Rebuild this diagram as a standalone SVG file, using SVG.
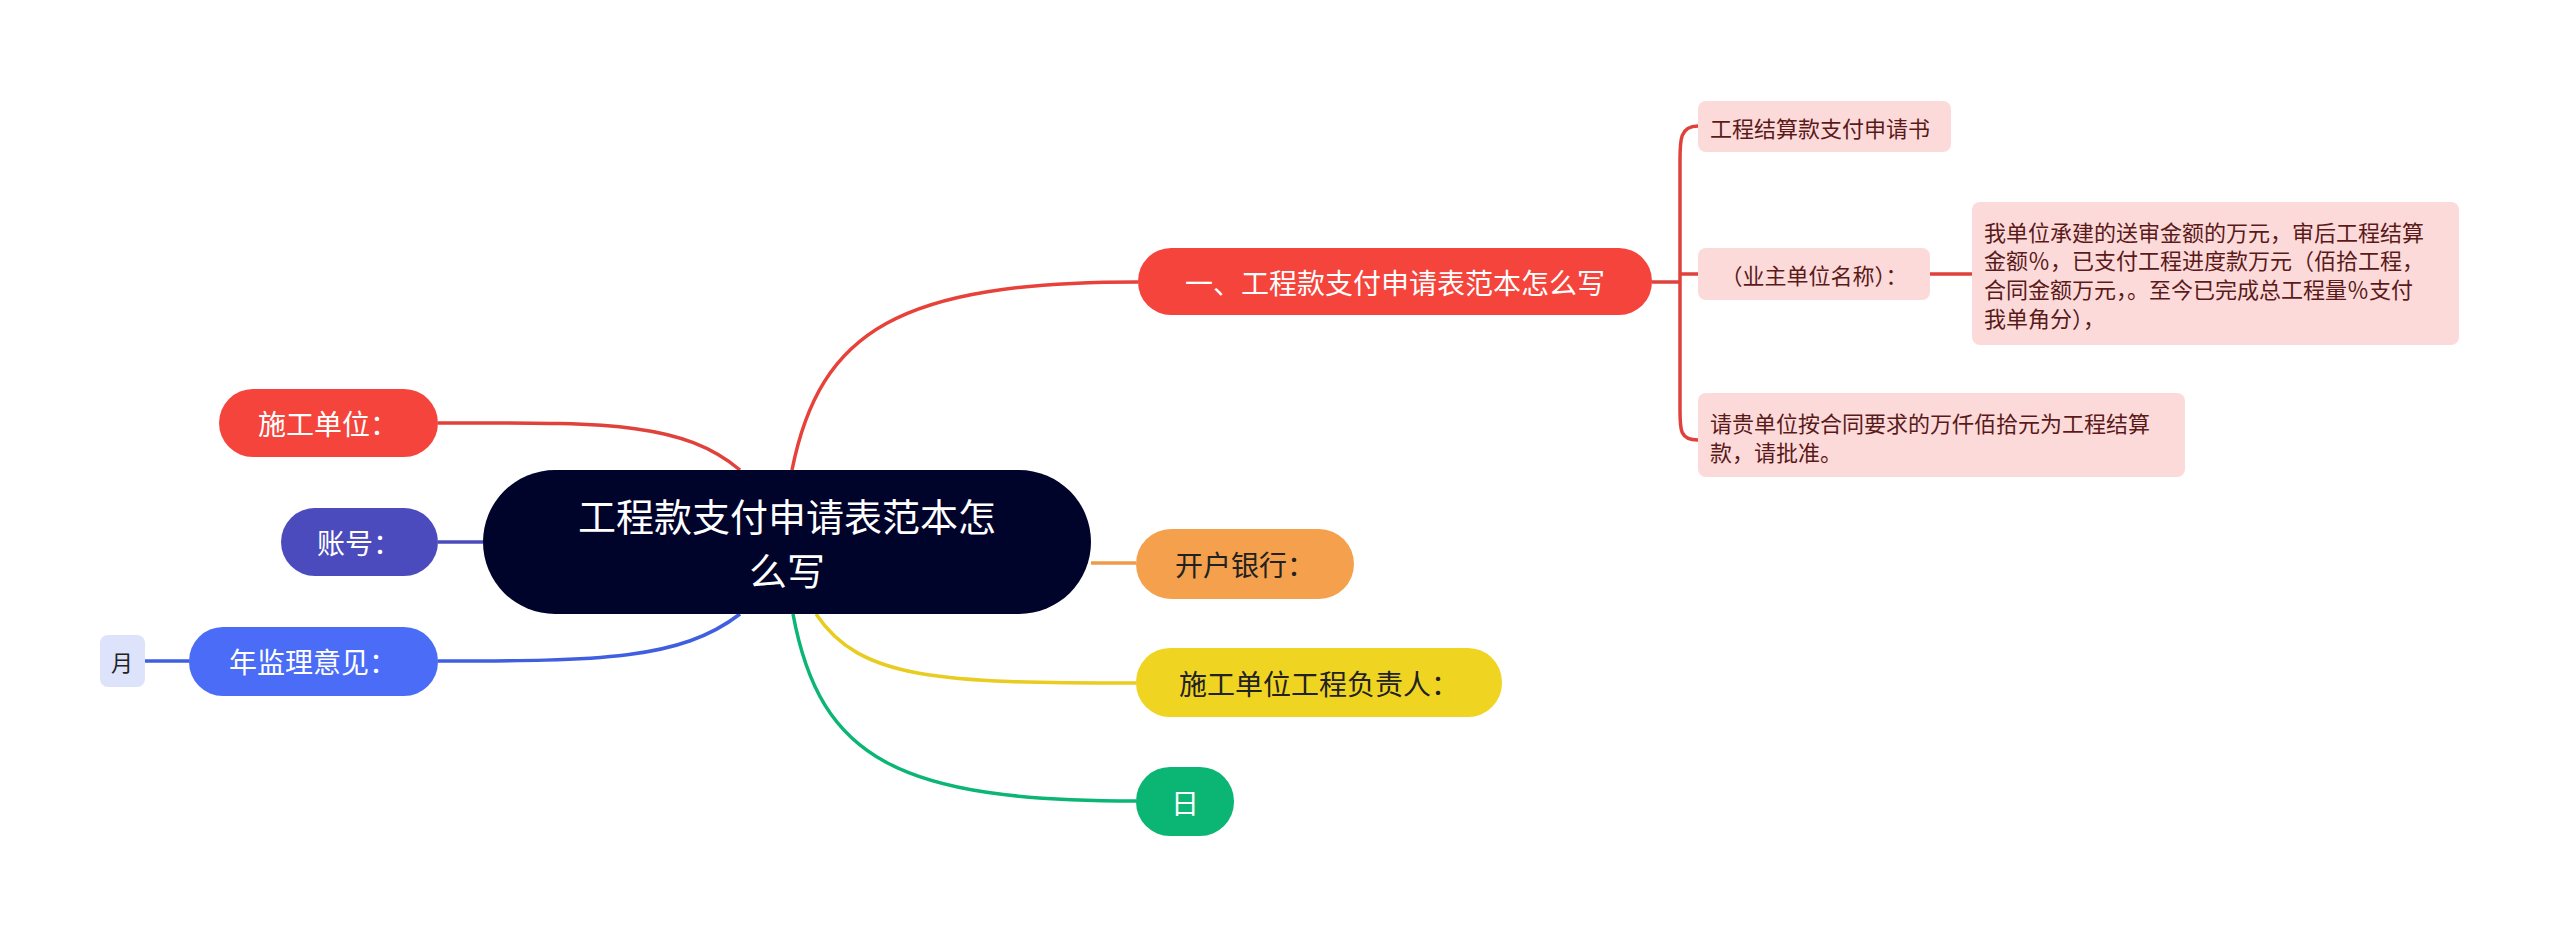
<svg xmlns="http://www.w3.org/2000/svg" width="2560" height="937" viewBox="0 0 2560 937">
<style>
text{font-family:"Noto Sans CJK SC","Noto Sans",sans-serif;dominant-baseline:central}
.c path{fill:none;stroke-width:3.5}
.b{font-size:28px}
.s{font-size:22px;fill:#5a1a1a}
.p{fill:#fddada}
</style>
<rect width="2560" height="937" fill="#fff"/>
<g class="c">
<path d="M792 470 C820 330 900 282 1138 282" stroke="#e8413a"/>
<path d="M740 470 C680 420 600 423 438 423" stroke="#e0413a"/>
<path d="M483 542 L438 542" stroke="#4b4bbd"/>
<path d="M740 614 C680 660 600 661 438 661" stroke="#3f5fe0"/>
<path d="M145 661 L189 661" stroke="#3f5fe0"/>
<path d="M1091 563 L1136 563" stroke="#f09a48"/>
<path d="M816 614 C860 680 940 683 1136 683" stroke="#e8cc20"/>
<path d="M793 614 C820 760 900 801 1136 801" stroke="#0bb574"/>
<path d="M1652 282 L1680 282" stroke="#e0413a"/>
<path d="M1698 126 C1680 126 1680 140 1680 160 L1680 410 C1680 430 1680 440 1698 440 M1680 274 L1698 274" stroke="#e0413a" stroke-width="2.5"/>
<path d="M1930 274 L1972 274" stroke="#e0413a"/>
</g>
<g id="root"><rect x="483" y="470" width="608" height="144" rx="72" fill="#00032a"/>
<text x="787" y="514" font-size="38" fill="#fff" text-anchor="middle">工程款支付申请表范本怎</text>
<text x="787" y="568" font-size="38" fill="#fff" text-anchor="middle">么写</text></g>
<g id="n1"><rect x="1138" y="248" width="514" height="67" rx="33" fill="#f5443c"/><text class="b" x="1395" y="282" fill="#fff" text-anchor="middle">一、工程款支付申请表范本怎么写</text></g>
<g id="n1a"><rect class="p" x="1698" y="101" width="253" height="51" rx="8"/><text class="s" x="1710" y="127">工程结算款支付申请书</text></g>
<g id="n1b"><rect class="p" x="1698" y="248" width="232" height="52" rx="8"/><text class="s" x="1814" y="274" text-anchor="middle">（业主单位名称）：</text></g>
<g id="n1b1"><rect class="p" x="1972" y="202" width="487" height="143" rx="8"/>
<text class="s" x="1984" y="231">我单位承建的送审金额的万元，审后工程结算</text>
<text class="s" x="1984" y="259">金额％，已支付工程进度款万元（佰拾工程，</text>
<text class="s" x="1984" y="288">合同金额万元，。至今已完成总工程量％支付</text>
<text class="s" x="1984" y="317">我单角分），</text></g>
<g id="n1c"><rect class="p" x="1698" y="393" width="487" height="84" rx="8"/>
<text class="s" x="1710" y="422">请贵单位按合同要求的万仟佰拾元为工程结算</text>
<text class="s" x="1710" y="451">款，请批准。</text></g>
<g id="n2"><rect x="1136" y="529" width="218" height="70" rx="35" fill="#f5a04c"/><text class="b" x="1245" y="564" fill="#222" text-anchor="middle">开户银行：</text></g>
<g id="n3"><rect x="1136" y="648" width="366" height="69" rx="34" fill="#f0d422"/><text class="b" x="1319" y="683" fill="#222" text-anchor="middle">施工单位工程负责人：</text></g>
<g id="n4"><rect x="1136" y="767" width="98" height="69" rx="34" fill="#0bb574"/><text class="b" x="1185" y="802" fill="#fff" text-anchor="middle">日</text></g>
<g id="n5"><rect x="219" y="389" width="219" height="68" rx="34" fill="#f5443c"/><text class="b" x="328" y="423" fill="#fff" text-anchor="middle">施工单位：</text></g>
<g id="n6"><rect x="281" y="508" width="157" height="68" rx="34" fill="#4b4bbd"/><text class="b" x="359" y="542" fill="#fff" text-anchor="middle">账号：</text></g>
<g id="n7"><rect x="189" y="627" width="249" height="69" rx="34" fill="#4a6cf7"/><text class="b" x="313" y="661" fill="#fff" text-anchor="middle">年监理意见：</text></g>
<g id="n8"><rect x="100" y="635" width="45" height="52" rx="8" fill="#dde3fb"/><text x="122" y="661" font-size="22" fill="#222" text-anchor="middle">月</text></g>
</svg>
